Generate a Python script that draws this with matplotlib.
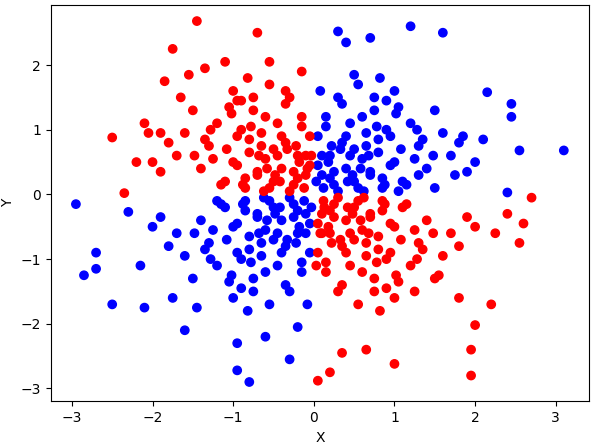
import matplotlib
matplotlib.use("Agg")
from matplotlib import pyplot as plt
import numpy as np

# points (approximate)
px = [
 # upper-right (blue)
 0.05,0.1,0.15,0.2,0.25,0.3,0.35,0.4,0.45,0.5,0.55,0.6,0.65,0.7,0.75,0.8,0.85,0.9,0.95,1.0,
 0.1,0.2,0.3,0.4,0.5,0.6,0.7,0.8,0.9,1.0,1.1,1.2,1.3,1.4,1.5,1.6,1.7,1.8,1.9,2.0,
 0.05,0.15,0.25,0.35,0.45,0.55,0.65,0.75,0.85,0.95,1.05,1.15,1.25,1.35,0.12,0.22,0.42,0.62,0.82,1.02,
 0.3,0.7,0.4,1.2,1.6,2.15,2.45,2.45,2.55,3.1,2.4,2.1,1.85,1.75,1.5,1.3,1.05,0.5,0.08,0.03,
 0.18,0.33,0.48,0.68,0.88,1.08,1.28,1.48,0.58,0.78,
 # lower-left (blue)
 -0.05,-0.1,-0.15,-0.2,-0.25,-0.3,-0.35,-0.4,-0.45,-0.5,-0.55,-0.6,-0.65,-0.7,-0.75,-0.8,-0.85,-0.9,-0.95,-1.0,
 -0.1,-0.2,-0.3,-0.4,-0.5,-0.6,-0.7,-0.8,-0.9,-1.0,-1.1,-1.2,-1.3,-1.4,-1.5,-1.6,-1.7,-1.8,-1.9,-2.0,
 -0.05,-0.15,-0.25,-0.35,-0.45,-0.55,-0.65,-0.75,-0.85,-0.95,-1.05,-1.15,-1.25,-1.35,-0.12,-0.22,-0.42,-0.62,-0.82,-1.02,
 -2.95,-2.85,-2.7,-2.7,-2.5,-0.8,-0.95,-0.3,-0.95,-2.15,-2.1,-2.3,-1.75,-1.6,-1.45,-1.2,-0.6,-0.2,-0.08,-0.03,
 -0.18,-0.33,-0.48,-0.68,-0.88,-1.08,-1.28,-1.48,-0.58,-0.78,
 # upper-left (red)
 -0.05,-0.1,-0.15,-0.2,-0.25,-0.3,-0.35,-0.4,-0.45,-0.5,-0.55,-0.6,-0.65,-0.7,-0.75,-0.8,-0.85,-0.9,-0.95,-1.0,
 -0.1,-0.2,-0.3,-0.4,-0.5,-0.6,-0.7,-0.8,-0.9,-1.0,-1.1,-1.2,-1.3,-1.4,-1.5,-1.6,-1.7,-1.8,-1.9,-2.0,
 -0.05,-0.15,-0.25,-0.35,-0.45,-0.55,-0.65,-0.75,-0.85,-0.95,-1.05,-1.15,-1.25,-1.35,-0.12,-0.22,-0.42,-0.62,-0.82,-1.02,
 -1.45,-0.7,-1.75,-2.5,-2.35,-2.1,-2.2,-1.9,-1.65,-1.35,-1.1,-0.35,-0.15,-0.03,-0.08,-1.55,-1.85,-2.05,-0.55,-0.95,
 -0.18,-0.33,-0.48,-0.68,-0.88,-1.08,-1.28,-1.48,-0.58,-0.78,
 # lower-right (red)
 0.05,0.1,0.15,0.2,0.25,0.3,0.35,0.4,0.45,0.5,0.55,0.6,0.65,0.7,0.75,0.8,0.85,0.9,0.95,1.0,
 0.1,0.2,0.3,0.4,0.5,0.6,0.7,0.8,0.9,1.0,1.1,1.2,1.3,1.4,1.5,1.6,1.7,1.8,1.9,2.0,
 0.05,0.15,0.25,0.35,0.45,0.55,0.65,0.75,0.85,0.95,1.05,1.15,1.25,1.35,0.12,0.22,0.42,0.62,0.82,1.02,
 0.05,0.2,1.0,1.95,1.95,2.0,0.35,2.6,2.7,2.55,2.4,2.25,2.2,1.8,1.55,1.25,0.65,0.03,0.08,0.13,
 0.18,0.33,0.48,0.68,0.88,1.08,1.28,1.48,0.58,0.78,
]
py = [
 0.9,0.3,1.2,0.6,0.15,1.5,0.8,0.4,1.1,0.2,1.7,0.55,0.95,0.3,1.3,0.65,0.1,1.0,0.45,1.6,
 0.6,0.25,0.05,0.9,0.7,1.2,0.35,0.85,1.45,0.5,0.2,1.1,0.75,0.4,1.3,0.95,0.6,0.8,0.35,0.5,
 0.45,1.05,0.35,1.4,0.6,0.1,0.75,1.5,0.25,0.9,1.35,0.15,0.55,0.85,0.1,0.75,0.2,0.05,1.8,1.25,
 2.52,2.42,2.35,2.6,2.5,1.58,1.4,1.2,0.68,0.68,0.03,0.85,0.9,0.3,0.1,0.3,0.05,1.85,1.6,0.2,
 0.5,0.7,0.3,0.6,0.15,0.7,1.0,0.6,0.4,1.05,
 -0.9,-0.3,-1.2,-0.6,-0.15,-1.5,-0.8,-0.4,-1.1,-0.2,-1.7,-0.55,-0.95,-0.3,-1.3,-0.65,-0.1,-1.0,-0.45,-1.6,
 -0.6,-0.25,-0.05,-0.9,-0.7,-1.2,-0.35,-0.85,-1.45,-0.5,-0.2,-1.1,-0.75,-0.4,-1.3,-0.95,-0.6,-0.8,-0.35,-0.5,
 -0.45,-1.05,-0.35,-1.4,-0.6,-0.1,-0.75,-1.5,-0.25,-0.9,-1.35,-0.15,-0.55,-0.85,-0.1,-0.75,-0.2,-0.05,-1.8,-1.25,
 -0.15,-1.25,-0.9,-1.15,-1.7,-2.9,-2.72,-2.55,-2.3,-1.1,-1.75,-0.27,-1.6,-2.1,-1.75,-0.1,-2.2,-2.05,-1.7,-0.2,
 -0.5,-0.7,-0.3,-0.6,-0.15,-0.7,-1.0,-0.6,-0.4,-1.05,
 0.9,0.3,1.2,0.6,0.15,1.5,0.8,0.4,1.1,0.2,1.7,0.55,0.95,0.3,1.3,0.65,0.1,1.0,0.45,1.6,
 0.6,0.25,0.05,0.9,0.7,1.2,0.35,0.85,1.45,0.5,0.2,1.1,0.75,0.4,1.3,0.95,0.6,0.8,0.35,0.5,
 0.45,1.05,0.35,1.4,0.6,0.1,0.75,1.5,0.25,0.9,1.35,0.15,0.55,0.85,0.1,0.75,0.2,0.05,1.8,1.25,
 2.68,2.5,2.25,0.88,0.02,1.1,0.5,0.95,1.5,1.95,2.05,1.6,1.9,0.6,0.4,1.85,1.75,0.95,2.05,1.45,
 0.5,0.7,0.3,0.6,0.15,0.7,1.0,0.6,0.4,1.05,
 -0.9,-0.3,-1.2,-0.6,-0.15,-1.5,-0.8,-0.4,-1.1,-0.2,-1.7,-0.55,-0.95,-0.3,-1.3,-0.65,-0.1,-1.0,-0.45,-1.6,
 -0.6,-0.25,-0.05,-0.9,-0.7,-1.2,-0.35,-0.85,-1.45,-0.5,-0.2,-1.1,-0.75,-0.4,-1.3,-0.95,-0.6,-0.8,-0.35,-0.5,
 -0.45,-1.05,-0.35,-1.4,-0.6,-0.1,-0.75,-1.5,-0.25,-0.9,-1.35,-0.15,-0.55,-0.85,-0.1,-0.75,-0.2,-0.05,-1.8,-1.25,
 -2.88,-2.75,-2.62,-2.8,-2.4,-2.02,-2.45,-0.45,-0.05,-0.75,-0.3,-0.6,-1.7,-1.6,-1.25,-1.5,-2.4,-1.1,-0.6,-0.2,
 -0.5,-0.7,-0.3,-0.6,-0.15,-0.7,-1.0,-0.6,-0.4,-1.05,
]

px = np.array(px)
py = np.array(py)
cores = np.where(px * py > 0, "blue", "red")

fig = plt.figure(figsize=(5.99, 4.46), dpi=100)
ax = fig.add_subplot(111)
ax.scatter(px, py, c=cores)
ax.set_xlabel("X")
ax.set_ylabel("Y")
ax.set_xlim(-3.26, 3.41)
ax.set_ylim(-3.2, 2.93)
fig.subplots_adjust(left=0.085, right=0.983, top=0.989, bottom=0.1)
fig.savefig("out.png")
